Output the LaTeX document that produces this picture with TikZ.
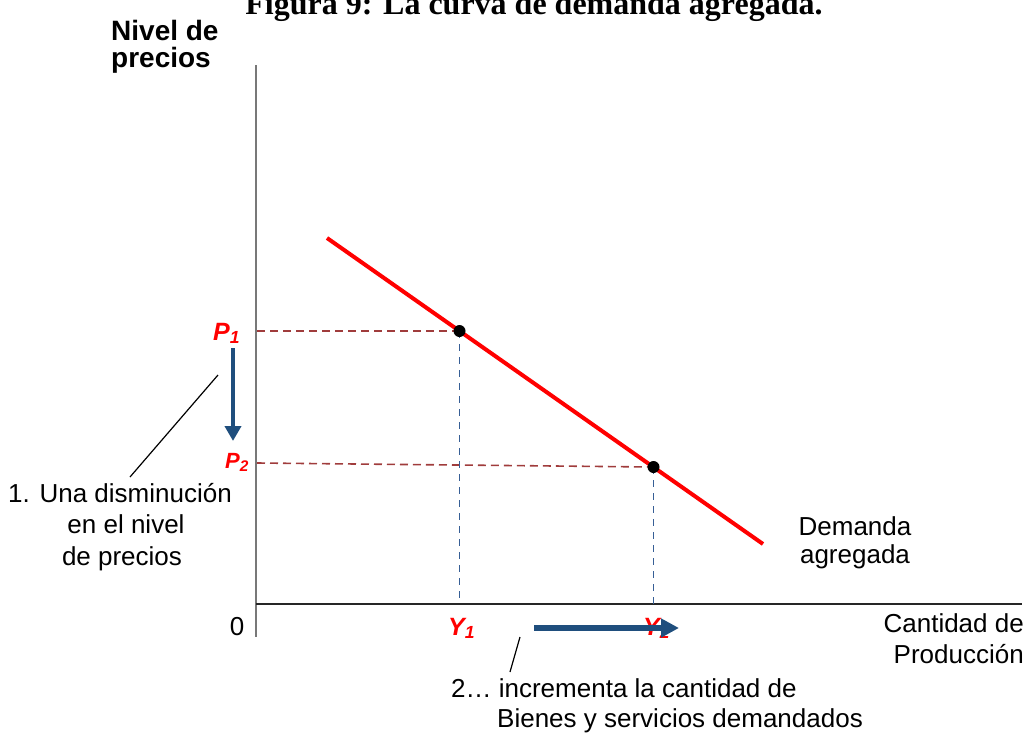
\documentclass[tikz,border=0pt]{standalone}
\usepackage{fontspec}
\setmainfont{Liberation Sans}
\newfontfamily\titlefont{Liberation Serif}
\usetikzlibrary{arrows.meta}
\definecolor{dashbrown}{RGB}{160,60,60}
\definecolor{dashblue}{RGB}{55,95,150}
\definecolor{arrblue}{RGB}{31,78,125}
\definecolor{axgray}{RGB}{120,120,120}
\begin{document}
\begin{tikzpicture}[x=1pt,y=-1pt,
  lbl/.style={font=\fontsize{26}{31}\selectfont, inner sep=0pt},
  head/.style={font=\fontsize{28}{30}\selectfont\bfseries, inner sep=0pt},
  plbl/.style={font=\fontsize{25}{30}\selectfont\bfseries\itshape, text=red, inner sep=0pt},
  dot/.style={circle, fill=black, inner sep=0pt, minimum size=12pt},
  brdash/.style={draw=dashbrown, line width=1.6pt, dash pattern=on 8pt off 5pt},
  bldash/.style={draw=dashblue, line width=1.6pt, dash pattern=on 7pt off 6pt},
  bigarrow/.style={draw=arrblue, line width=#1},
  leader/.style={draw=black, line width=1.2pt}]
\clip (0,0) rectangle (1029,734);
% title (cut off at the top)
\node[font=\titlefont\fontsize{32}{36}\selectfont\bfseries, inner sep=0pt, anchor=base] (title) at (534,14) {Figura 9: La curva de demanda agregada.};
% axes
\coordinate (ytop) at (256,65);
\coordinate (ybot) at (256,637);
\coordinate (xl) at (256,604);
\coordinate (xr) at (1022,604);
\draw[axgray, line width=1.3pt] (ytop) -- (ybot);
\draw[black!85, line width=1.3pt] (xl) -- (xr);
% axis titles
\node[head, anchor=base west] (nv1) at (111,40) {Nivel de};
\node[head, anchor=base west] (nv2) at (111,67) {precios};
\node[lbl, anchor=base east] (cq1) at (1024,632) {Cantidad de};
\node[lbl, anchor=base east] (cq2) at (1024,663) {Producción};
\node[lbl, anchor=base] (zero) at (237,635) {0};
% demand curve
\coordinate (c1) at (327,238);
\coordinate (c2) at (763,544);
\coordinate (p1) at (459.5,331);
\coordinate (p2) at (653.5,467);
\coordinate (yp1) at (257,331);
\coordinate (yp2) at (257,463);
\coordinate (xp1) at (459.5,604);
\coordinate (xp2) at (653.5,604);
\draw[brdash] (yp1) -- (p1);
\draw[brdash] (yp2) -- (p2);
\draw[bldash] (p1) -- (xp1);
\draw[bldash] (p2) -- (xp2);
\draw[red, line width=4pt] (c1) -- (c2);
\node[dot] (d1) at (p1) {};
\node[dot] (d2) at (p2) {};
\node[lbl, anchor=base] (dem1) at (855,535) {Demanda};
\node[lbl, anchor=base] (dem2) at (855,563) {agregada};
% price labels
\node[plbl, anchor=base west] (P1) at (213,340) {P\textsubscript{1}};
\node[plbl, font=\fontsize{22}{26}\selectfont\bfseries\itshape, anchor=base west] (P2) at (225,468) {P\textsubscript{2}};
\coordinate (da1) at (233,348);
\coordinate (da2) at (233,441);
\draw[bigarrow=4pt, -{Triangle[width=16pt,length=15pt]}] (da1) -- (da2);
% quantity labels
\node[plbl, anchor=base west] (Y1) at (448,635) {Y\textsubscript{1}};
\node[plbl, anchor=base west] (Y2) at (643,635) {Y\textsubscript{2}};
\coordinate (ha1) at (534,628);
\coordinate (ha2) at (679,628);
\draw[bigarrow=6pt, -{Triangle[width=18pt,length=18pt]}] (ha1) -- (ha2);
% note 1
\node[lbl, anchor=base] (t11) at (120,502) {1. Una disminución};
\node[lbl, anchor=base] (t12) at (126,533) {en el nivel};
\node[lbl, anchor=base] (t13) at (122,565) {de precios};
\coordinate (l1a) at (218,375);
\coordinate (l1b) at (130,477);
\draw[leader] (l1a) -- (l1b);
% note 2
\node[lbl, anchor=base west] (t21) at (451,697) {2… incrementa la cantidad de};
\node[lbl, anchor=base west] (t22) at (497,727) {Bienes y servicios demandados};
\coordinate (l2a) at (520,637);
\coordinate (l2b) at (510,672);
\draw[leader] (l2a) -- (l2b);
\end{tikzpicture}
\end{document}
